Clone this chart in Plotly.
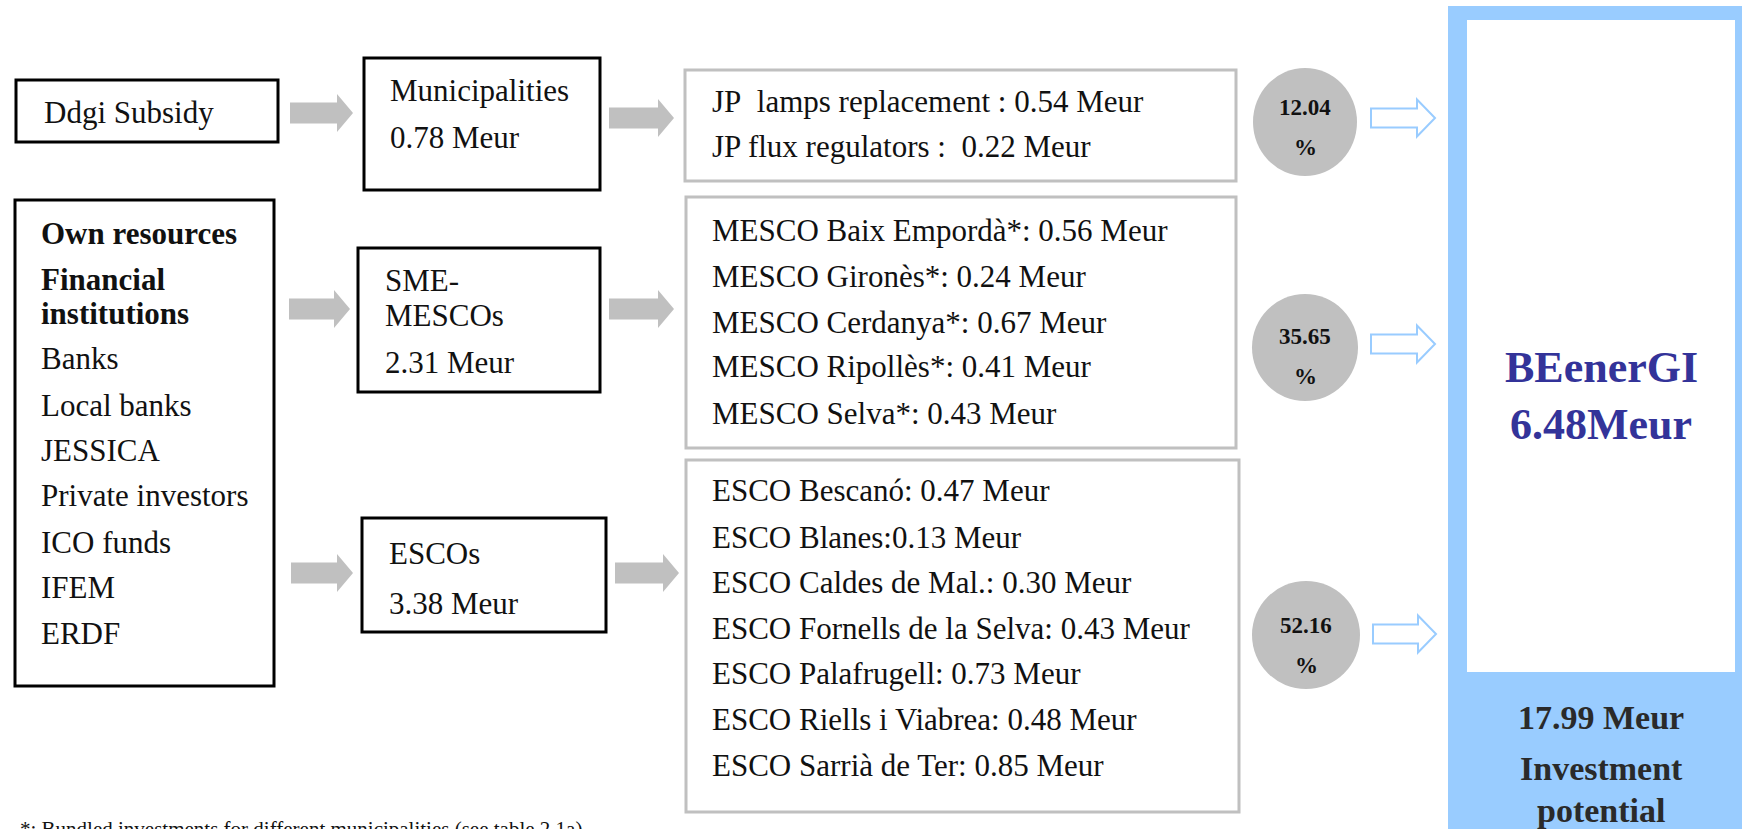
import plotly.graph_objects as go

W, H = 1742, 829

# ---------------- data ----------------
subsidy_label = "Ddgi Subsidy"
own_bold = ["Own resources", "Financial", "institutions"]
own_list = ["Banks", "Local banks", "JESSICA", "Private investors", "ICO funds", "IFEM", "ERDF"]

channel_names = [["Municipalities"], ["SME-", "MESCOs"], ["ESCOs"]]
channel_values = [0.78, 2.31, 3.38]

jp_labels = ["JP\u00a0 lamps replacement : ", "JP flux regulators :\u00a0 "]
jp_values = [0.54, 0.22]
mesco_labels = ["MESCO Baix Empordà*: ", "MESCO Gironès*: ", "MESCO Cerdanya*: ",
                "MESCO Ripollès*: ", "MESCO Selva*: "]
mesco_values = [0.56, 0.24, 0.67, 0.41, 0.43]
esco_labels = ["ESCO Bescanó: ", "ESCO Blanes:", "ESCO Caldes de Mal.: ",
               "ESCO Fornells de la Selva: ", "ESCO Palafrugell: ",
               "ESCO Riells i Viabrea: ", "ESCO Sarrià de Ter: "]
esco_values = [0.47, 0.13, 0.30, 0.43, 0.73, 0.48, 0.85]

shares = [12.04, 35.65, 52.16]
program_name = "BEenerGI"
program_value = 6.48
potential_value = 17.99
potential_label = ["Investment", "potential"]
footnote = "*: Bundled investments for different municipalities (see table 2.1a)"

# ---------------- layout / style config ----------------
FONT = "Liberation Serif, Times New Roman, serif"
MAIN = 31
GREY = "#c0c0c0"
BLUE = "#99ccff"

black_boxes = [(16, 278, 80, 142), (15, 274, 200, 686),
               (364, 600, 58, 190), (358, 600, 248, 392), (362, 606, 518, 632)]
grey_boxes = [(685, 1236, 70, 181), (686, 1236, 197, 448), (686, 1239, 460, 812)]
grey_arrows = [(290, 353, 113), (609, 674, 118), (289, 350, 309),
               (609, 674, 309), (291, 353, 573), (615, 679, 573)]
circles = [(1253, 1357, 68, 176), (1252, 1358, 294, 401), (1252, 1360, 581, 689)]
share_y = [(107, 147), (336, 376), (625, 665)]
hollow_arrows = [(1371, 1435, 118), (1371, 1435, 344), (1373, 1436, 634)]
panel_outer = (1448, 1745, 6, 835)
panel_inner = (1467, 1735, 20, 672)

channel_x = [388, 383, 387]
channel_y = [[90, 137], [280, 315, 362], [553, 603]]
own_x = 39
own_bold_y = [233, 279, 313]
own_list_y = [358, 405, 450, 495, 542, 587, 633]
proj_x = 710
jp_y = [101, 146]
mesco_y = [230, 276, 322, 366, 413]
esco_y = [490, 537, 582, 628, 673, 719, 765]
footnote_pos = (18, 829)

fig = go.Figure()
shapes = []
ann = []


def text(x, y, s, size=MAIN, color="#111111", bold=False, xanchor="left", paper=False):
    a = dict(text=(f"<b>{s}</b>" if bold else s),
             showarrow=False, xanchor=xanchor, yanchor="middle",
             font=dict(family=FONT, size=size, color=color))
    if paper:
        a.update(x=x / W, y=1 - y / H, xref="paper", yref="paper")
    else:
        a.update(x=x, y=y, xref="x", yref="y")
    ann.append(a)


def rect(b, line_color, width, fill="rgba(0,0,0,0)"):
    shapes.append(dict(type="rect", xref="x", yref="y", x0=b[0], x1=b[1], y0=b[2], y1=b[3],
                       line=dict(color=line_color, width=width), fillcolor=fill, layer="below"))


def arrow_path(x0, x1, yc, bh, hh, hl):
    xh = x1 - hl
    return (f"M{x0},{yc-bh} L{xh},{yc-bh} L{xh},{yc-hh} L{x1},{yc} "
            f"L{xh},{yc+hh} L{xh},{yc+bh} L{x0},{yc+bh} Z")


# right panel
rect(panel_outer, BLUE, 0, BLUE)
rect(panel_inner, "white", 0, "white")

for b in black_boxes:
    rect(b, "black", 3, "white")
for b in grey_boxes:
    rect(b, GREY, 3, "white")
for x0, x1, yc in grey_arrows:
    shapes.append(dict(type="path", xref="x", yref="y", path=arrow_path(x0, x1, yc, 10.5, 19, 16),
                       fillcolor=GREY, line=dict(width=0)))
for x0, x1, yc in hollow_arrows:
    shapes.append(dict(type="path", xref="x", yref="y", path=arrow_path(x0, x1, yc, 9.5, 18.5, 18),
                       fillcolor="white", line=dict(color=BLUE, width=2)))
for c in circles:
    shapes.append(dict(type="circle", xref="x", yref="y", x0=c[0], x1=c[1], y0=c[2], y1=c[3],
                       fillcolor=GREY, line=dict(width=0)))

# sources
text(42, 112, subsidy_label)
for s, y in zip(own_bold, own_bold_y):
    text(own_x, y, s, bold=True)
for s, y in zip(own_list, own_list_y):
    text(own_x, y, s)

# channels
for names, val, x, ys in zip(channel_names, channel_values, channel_x, channel_y):
    lines = names + [f"{val:.2f} Meur"]
    for s, y in zip(lines, ys):
        text(x, y, s)

# projects
for labels, vals, ys in [(jp_labels, jp_values, jp_y), (mesco_labels, mesco_values, mesco_y),
                         (esco_labels, esco_values, esco_y)]:
    for lab, v, y in zip(labels, vals, ys):
        text(proj_x, y, f"{lab}{v:.2f} Meur")

# shares
for sh, c, (y1, y2) in zip(shares, circles, share_y):
    xc = (c[0] + c[1]) / 2
    text(xc, y1, f"{sh:.2f}", size=23, bold=True, xanchor="center")
    text(xc, y2, "%", size=23, bold=True, xanchor="center")

# program panel
pxc = 1601
text(pxc, 367, program_name, size=44, color="#333399", bold=True, xanchor="center")
text(pxc, 424, f"{program_value:.2f}Meur", size=44, color="#333399", bold=True, xanchor="center")
text(pxc, 717, f"{potential_value:.2f} Meur", size=34, color="#2a2a2a", bold=True, xanchor="center")
text(pxc, 768, potential_label[0], size=34, color="#2a2a2a", bold=True, xanchor="center")
text(pxc, 810, potential_label[1], size=34, color="#2a2a2a", bold=True, xanchor="center")

# footnote (cut by the bottom edge in the reference)
text(footnote_pos[0], footnote_pos[1], footnote, size=21, paper=True)

fig.update_layout(
    width=W, height=H, margin=dict(l=0, r=0, t=0, b=0),
    paper_bgcolor="white", plot_bgcolor="white",
    xaxis=dict(range=[0, W], visible=False, fixedrange=True),
    yaxis=dict(range=[H, 0], visible=False, fixedrange=True),
    shapes=shapes, annotations=ann, showlegend=False,
)

fig.write_html("out.html", config={"displayModeBar": False},
               post_script="document.body.style.margin='0';document.body.style.overflow='hidden';")
